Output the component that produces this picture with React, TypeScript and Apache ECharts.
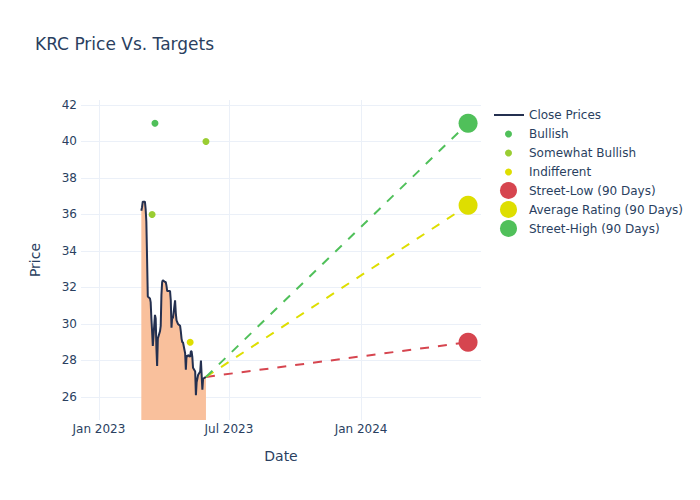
import React, { useEffect, useRef } from "react";
import * as echarts from "echarts";

const closeDates = [
  "2023-03-01","2023-03-02","2023-03-03","2023-03-06","2023-03-07","2023-03-08","2023-03-09","2023-03-10",
  "2023-03-13","2023-03-14","2023-03-15","2023-03-16","2023-03-17","2023-03-20","2023-03-21","2023-03-22",
  "2023-03-23","2023-03-24","2023-03-27","2023-03-28","2023-03-29","2023-03-30","2023-03-31",
  "2023-04-03","2023-04-04","2023-04-05","2023-04-06","2023-04-10","2023-04-11","2023-04-12","2023-04-13",
  "2023-04-14","2023-04-17","2023-04-18","2023-04-19","2023-04-20","2023-04-21","2023-04-24","2023-04-25",
  "2023-04-26","2023-04-27","2023-04-28",
  "2023-05-01","2023-05-02","2023-05-03","2023-05-04","2023-05-05","2023-05-08","2023-05-09","2023-05-10",
  "2023-05-11","2023-05-12","2023-05-15","2023-05-16","2023-05-17","2023-05-18","2023-05-19","2023-05-22",
  "2023-05-23","2023-05-24","2023-05-25","2023-05-26","2023-05-30",
];
const closePrices = [
  36.2, 36.4, 36.7, 36.7, 36.3, 35.6, 33.6, 31.5,
  31.4, 31.2, 30.3, 29.6, 28.8, 30.5, 30.3, 28.7,
  27.7, 29.2, 29.6, 29.9, 31.6, 32.3, 32.4,
  32.3, 32.3, 32.1, 31.8, 31.8, 31.3, 29.8, 30.4,
  30.3, 31.3, 30.6, 30.2, 30.1, 30.0, 29.9, 29.6,
  29.2, 29.0, 29.0,
  28.4, 27.5, 28.3, 28.2, 28.3, 28.2, 28.5, 28.5,
  28.2, 27.6, 27.4, 26.1, 26.8, 27.0, 27.2, 27.4,
  28.0, 27.2, 26.4, 27.0, 27.1,
];

const bullishDates = ["2023-03-20"];
const bullishValues = [41];
const somewhatBullishDates = ["2023-03-16", "2023-05-30"];
const somewhatBullishValues = [36, 40];
const indifferentDates = ["2023-05-08"];
const indifferentValues = [29];

const targetDate = "2024-05-29";
const streetLow = 29;
const averageRating = 36.5;
const streetHigh = 41;

const xTickDates = ["2023-01-01", "2023-07-01", "2024-01-01"];
const yTickValues = [26, 28, 30, 32, 34, 36, 38, 40, 42];
const xMin = "2022-12-07";
const xMax = "2024-06-16";
const yMin = 24.74;
const yMax = 42.27;

const TEXT = "#2a3f5f";
const GRID = "#ebf0f8";
const FONT = "DejaVu Sans";
const C_LINE = "#243050";
const C_FILL = "#f9c09c";
const C_GREEN = "#50c05a";
const C_YGREEN = "#9acd32";
const C_YELLOW = "#dede00";
const C_RED = "#d6454f";

const ts = (s: string) => {
  const [y, m, d] = s.split("-").map(Number);
  return new Date(y, m - 1, d).getTime();
};
const pairs = (ds: string[], vs: number[]) => ds.map((d, i) => [ts(d), vs[i]]);

export default function App() {
  const ref = useRef<HTMLDivElement>(null);
  useEffect(() => {
    if (!ref.current) return;
    const chart = echarts.init(ref.current, undefined, { renderer: "svg" });
    const lastDate = ts(closeDates[closeDates.length - 1]);
    const lastPrice = closePrices[closePrices.length - 1];
    const tgt = ts(targetDate);
    const tickVals = xTickDates.map(ts);
    const legendText = { color: TEXT, fontSize: 12, fontFamily: FONT };
    const dashed = (name: string, v: number, color: string) => ({
      name,
      type: "line",
      data: [[lastDate, lastPrice], [tgt, v]],
      symbol: "none",
      lineStyle: { color, width: 2, type: [9, 9] },
      z: 4,
    });
    const circ = (name: string) => ({ name, icon: "circle" });
    chart.setOption({
      animation: false,
      backgroundColor: "#fff",
      title: {
        text: "KRC Price Vs. Targets",
        left: 30,
        top: 30,
        textStyle: { color: TEXT, fontSize: 17, fontWeight: "normal", fontFamily: FONT },
      },
      grid: { left: 81, right: 219, top: 100, bottom: 80 },
      legend: [
        {
          data: [{ name: "Close Prices", icon: "rect" }],
          left: 489,
          top: 104,
          itemWidth: 30,
          itemHeight: 2,
          textStyle: legendText,
          selectedMode: false,
        },
        {
          data: ["Bullish", "Somewhat Bullish", "Indifferent"].map(circ),
          orient: "vertical",
          left: 500,
          top: 123,
          itemWidth: 7,
          itemHeight: 7,
          itemGap: 7,
          textStyle: { ...legendText, padding: [0, 0, 0, 12] },
          selectedMode: false,
        },
        {
          data: ["Street-Low (90 Days)", "Average Rating (90 Days)", "Street-High (90 Days)"].map(circ),
          orient: "vertical",
          left: 495,
          top: 177,
          itemWidth: 17,
          itemHeight: 17,
          itemGap: 2,
          textStyle: { ...legendText, padding: [0, 0, 0, 7] },
          selectedMode: false,
        },
      ],
      xAxis: {
        type: "time",
        min: ts(xMin),
        max: ts(xMax),
        name: "Date",
        nameLocation: "middle",
        nameGap: 29,
        nameTextStyle: { color: TEXT, fontSize: 14, fontFamily: FONT },
        axisLine: { show: false },
        axisTick: { show: false, customValues: tickVals },
        axisLabel: {
          customValues: tickVals,
          formatter: "{MMM} {yyyy}",
          color: TEXT,
          fontSize: 12,
          fontFamily: FONT,
          margin: 3,
          hideOverlap: false,
        },
        splitLine: { show: false },
      },
      yAxis: {
        type: "value",
        min: yMin,
        max: yMax,
        name: "Price",
        nameLocation: "middle",
        nameGap: 39,
        nameTextStyle: { color: TEXT, fontSize: 14, fontFamily: FONT },
        axisLine: { show: false },
        axisTick: { show: false, customValues: yTickValues },
        axisLabel: {
          customValues: yTickValues,
          color: TEXT,
          fontSize: 12,
          fontFamily: FONT,
          margin: 4,
        },
        splitLine: { show: false },
      },
      series: [
        {
          name: "grid",
          type: "line",
          data: [],
          silent: true,
          z: 0,
          markLine: {
            silent: true,
            z: 0,
            zlevel: 0,
            symbol: "none",
            label: { show: false },
            lineStyle: { color: GRID, width: 1, type: "solid" },
            data: [
              ...tickVals.map((v) => ({ xAxis: v })),
              ...yTickValues.map((v) => ({ yAxis: v })),
            ],
          },
        },
        {
          name: "Close Prices",
          type: "line",
          data: pairs(closeDates, closePrices),
          symbol: "none",
          lineStyle: { color: C_LINE, width: 2 },
          itemStyle: { color: C_LINE },
          areaStyle: { color: C_FILL, opacity: 1, origin: "start" },
          z: 2,
        },
        {
          name: "Bullish",
          type: "scatter",
          data: pairs(bullishDates, bullishValues),
          symbolSize: 7,
          itemStyle: { color: C_GREEN, opacity: 1 },
          z: 3,
        },
        {
          name: "Somewhat Bullish",
          type: "scatter",
          data: pairs(somewhatBullishDates, somewhatBullishValues),
          symbolSize: 7,
          itemStyle: { color: C_YGREEN, opacity: 1 },
          z: 3,
        },
        {
          name: "Indifferent",
          type: "scatter",
          data: pairs(indifferentDates, indifferentValues),
          symbolSize: 7,
          itemStyle: { color: C_YELLOW, opacity: 1 },
          z: 3,
        },
        dashed("lowLine", streetLow, C_RED),
        dashed("avgLine", averageRating, C_YELLOW),
        dashed("highLine", streetHigh, C_GREEN),
        {
          name: "Street-Low (90 Days)",
          type: "scatter",
          data: [[tgt, streetLow]],
          symbolSize: 19,
          itemStyle: { color: C_RED, opacity: 1 },
          z: 5,
        },
        {
          name: "Average Rating (90 Days)",
          type: "scatter",
          data: [[tgt, averageRating]],
          symbolSize: 19,
          itemStyle: { color: C_YELLOW, opacity: 1 },
          z: 5,
        },
        {
          name: "Street-High (90 Days)",
          type: "scatter",
          data: [[tgt, streetHigh]],
          symbolSize: 19,
          itemStyle: { color: C_GREEN, opacity: 1 },
          z: 5,
        },
      ],
    });
    return () => chart.dispose();
  }, []);
  return <div ref={ref} style={{ width: 700, height: 500, margin: -8 }} />;
}
